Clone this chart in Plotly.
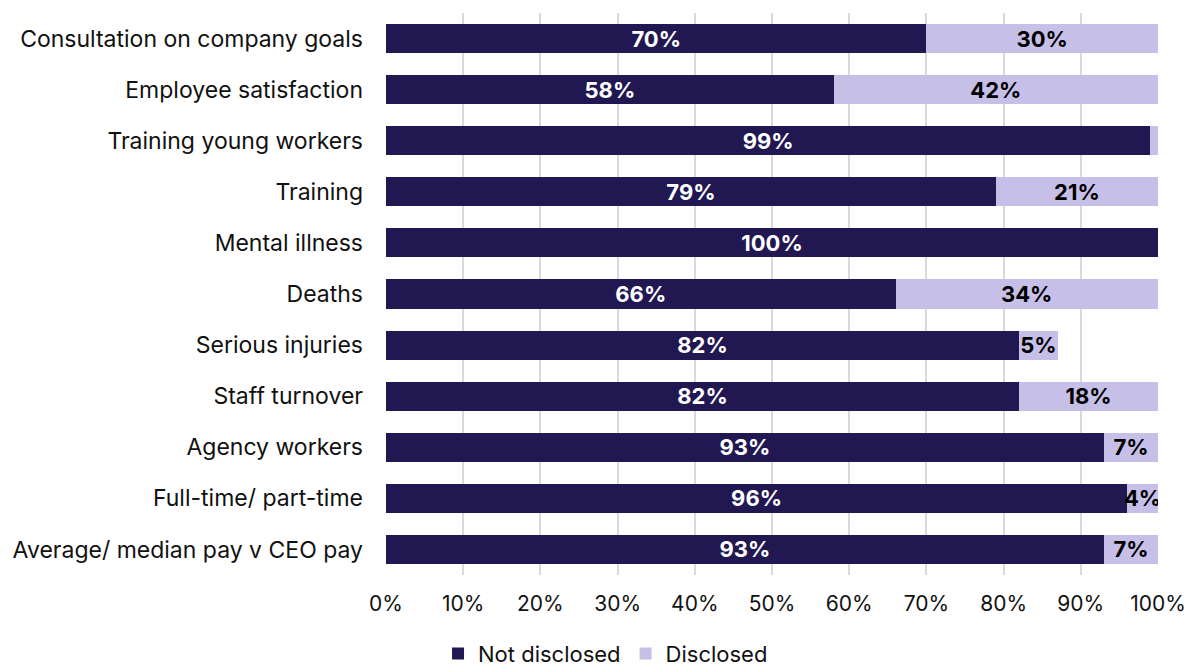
import plotly.graph_objects as go

categories = [
    "Consultation on company goals",
    "Employee satisfaction",
    "Training young workers",
    "Training",
    "Mental illness",
    "Deaths",
    "Serious injuries",
    "Staff turnover",
    "Agency workers",
    "Full-time/ part-time",
    "Average/ median pay v CEO pay",
]
not_disclosed = [70, 58, 99, 79, 100, 66, 82, 82, 93, 96, 93]
disclosed = [30, 42, 1, 21, 0, 34, 5, 18, 7, 4, 7]
tick_vals = list(range(0, 101, 10))
tick_text = [f"{v}%" for v in tick_vals]

DARK = "#211852"
LIGHT = "#c6bfe8"
FONT = "Inter"


def labels(values, min_show=2):
    return [f"{v}%" if v >= min_show else "" for v in values]


fig = go.Figure()
fig.add_trace(go.Bar(
    y=categories, x=not_disclosed, orientation="h", name="Not disclosed",
    marker=dict(color=DARK, line=dict(width=0)),
    text=labels(not_disclosed), textposition="inside", insidetextanchor="middle",
    textfont=dict(color="white", size=22, family=FONT, weight="bold"),
    hoverinfo="skip",
))
fig.add_trace(go.Bar(
    y=categories, x=disclosed, orientation="h", name="Disclosed",
    marker=dict(color=LIGHT, line=dict(width=0)),
    text=labels(disclosed), textposition="inside", insidetextanchor="middle",
    textfont=dict(color="black", size=22, family=FONT, weight="bold"),
    hoverinfo="skip",
))

fig.update_layout(
    barmode="stack",
    bargap=0.43,
    width=1192, height=666,
    margin=dict(l=386, r=34, t=13, b=91),
    plot_bgcolor="white", paper_bgcolor="white",
    font=dict(family=FONT, size=22, color="#111111"),
    uniformtext=dict(minsize=22, mode="show"),
    showlegend=True,
    legend=dict(orientation="h", xref="container", yref="container",
                x=0.508, xanchor="center", y=0.05, yanchor="top",
                font=dict(size=22), itemwidth=30, traceorder="normal"),
    xaxis=dict(range=[0, 100], tickvals=tick_vals, ticktext=tick_text,
               showgrid=True, gridcolor="#d9d9d9", gridwidth=1.5,
               zeroline=False, showline=False, ticks="", ticklabelstandoff=14,
               tickfont=dict(size=21), automargin=False),
    yaxis=dict(autorange="reversed", showgrid=False, ticks="", showline=False,
               ticklabelstandoff=22, tickfont=dict(size=23), automargin=False),
)

fig.write_html("out.html")
